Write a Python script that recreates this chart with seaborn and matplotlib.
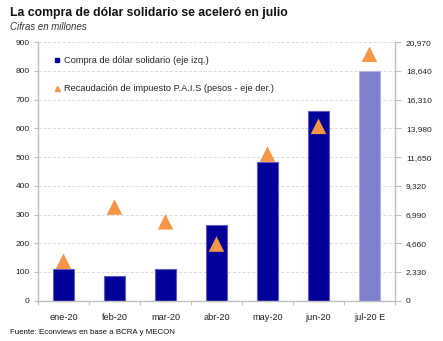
import numpy as np
import pandas as pd
import matplotlib
matplotlib.use("Agg")
import matplotlib.pyplot as plt
from matplotlib.lines import Line2D
from matplotlib.ticker import FixedLocator, NullFormatter
import seaborn as sns

# Monthly data (millions)
months = ["ene-20", "feb-20", "mar-20", "abr-20", "may-20", "jun-20", "jul-20 E"]
compra_usd = [110, 85, 110, 265, 483, 660, 800]          # left axis (USD)
impuesto_pais = [3200, 7600, 6400, 4600, 11900, 14150, 20000]  # right axis (pesos)

left_ticks = [0, 100, 200, 300, 400, 500, 600, 700, 800, 900]
right_ticks = [0, 2330, 4660, 6990, 9320, 11650, 13980, 16310, 18640, 20970]

sns.set_theme(style="white")
plt.rcParams["font.family"] = ["Liberation Sans", "DejaVu Sans"]

NAVY = "#000099"
NAVY_LIGHT = "#7f7fcc"
ORANGE = "#f79646"
AXIS_GRAY = "#bfbfbf"

fig = plt.figure(figsize=(4.43, 3.41), dpi=100)
ax = fig.add_axes([0.0858, 0.1182, 0.8058, 0.7578])

df = pd.DataFrame({"mes": months, "compra": compra_usd, "pais": impuesto_pais})
bar_colors = [NAVY] * (len(months) - 1) + [NAVY_LIGHT]
edge_colors = ["#5c5cc4"] * (len(months) - 1) + ["#b3b3e0"]

sns.barplot(data=df, x="mes", y="compra", hue="mes", palette=bar_colors,
            legend=False, width=0.4, ax=ax, saturation=1)
for patch, ec in zip(ax.patches, edge_colors):
    patch.set_edgecolor(ec)
    patch.set_linewidth(0.8)

ax.set_ylim(0, 900)
ax.set_xlim(-0.5, len(months) - 0.5)
ax.set_yticks(left_ticks)
ax.set_yticklabels([str(t) for t in left_ticks])
ax.set_xlabel("")
ax.set_ylabel("")
ax.yaxis.grid(True, color="#d9d9d9", linestyle=(0, (3, 2)), linewidth=0.7)
ax.set_axisbelow(True)

# category labels without ticks; boundary ticks as minor ticks
ax.tick_params(axis="x", which="major", length=0, labelsize=6.6, pad=9,
               labelcolor="#222222")
ax.xaxis.set_minor_locator(FixedLocator(np.arange(-0.5, len(months), 1.0)))
ax.xaxis.set_minor_formatter(NullFormatter())
ax.tick_params(axis="x", which="minor", length=3, color=AXIS_GRAY, width=0.8,
               bottom=True)
ax.tick_params(axis="y", length=3, color=AXIS_GRAY, width=0.8, labelsize=6,
               left=True, pad=3, labelcolor="#222222")

for side in ["top", "right"]:
    ax.spines[side].set_visible(False)
for side in ["left", "bottom"]:
    ax.spines[side].set_color(AXIS_GRAY)
    ax.spines[side].set_linewidth(1.0)

# right axis: impuesto PAIS
ax2 = ax.twinx()
sns.scatterplot(x=np.arange(len(months)), y=df["pais"], marker="^", s=125,
                color=ORANGE, edgecolor="none", ax=ax2, zorder=5)
ax2.set_ylim(0, 20970)
ax2.set_yticks(right_ticks)
ax2.set_yticklabels([f"{t:,}" for t in right_ticks])
ax2.set_ylabel("")
ax2.tick_params(axis="y", length=4, color=AXIS_GRAY, width=0.8, labelsize=6,
                right=True, pad=4, labelcolor="#222222")
for side in ["top", "left", "bottom"]:
    ax2.spines[side].set_visible(False)
ax2.spines["right"].set_color(AXIS_GRAY)
ax2.spines["right"].set_linewidth(1.0)
ax2.grid(False)

handles = [
    Line2D([], [], marker="s", color=NAVY, linestyle="none", markersize=3.2),
    Line2D([], [], marker="^", color=ORANGE, linestyle="none", markersize=3.6),
]
labels = ["Compra de dólar solidario (eje izq.)",
          "Recaudación de impuesto P.A.I.S (pesos - eje der.)"]
ax2.legend(handles, labels, loc="upper left", bbox_to_anchor=(0.035, 0.962),
           frameon=False, fontsize=6.7, handlelength=0.6, handletextpad=0.4,
           labelspacing=2.1, borderaxespad=0)

fig.text(0.0226, 0.962, "La compra de dólar solidario se aceleró en julio",
         fontsize=8.8, fontweight="bold", color="#111111", va="center")
fig.text(0.0226, 0.921, "Cifras en millones", fontsize=6.9, style="italic",
         color="#333333", va="center")
fig.text(0.0226, 0.024, "Fuente: Econviews en base a BCRA y MECON",
         fontsize=5.7, color="#111111", va="center")

fig.savefig("out.png", dpi=100)
